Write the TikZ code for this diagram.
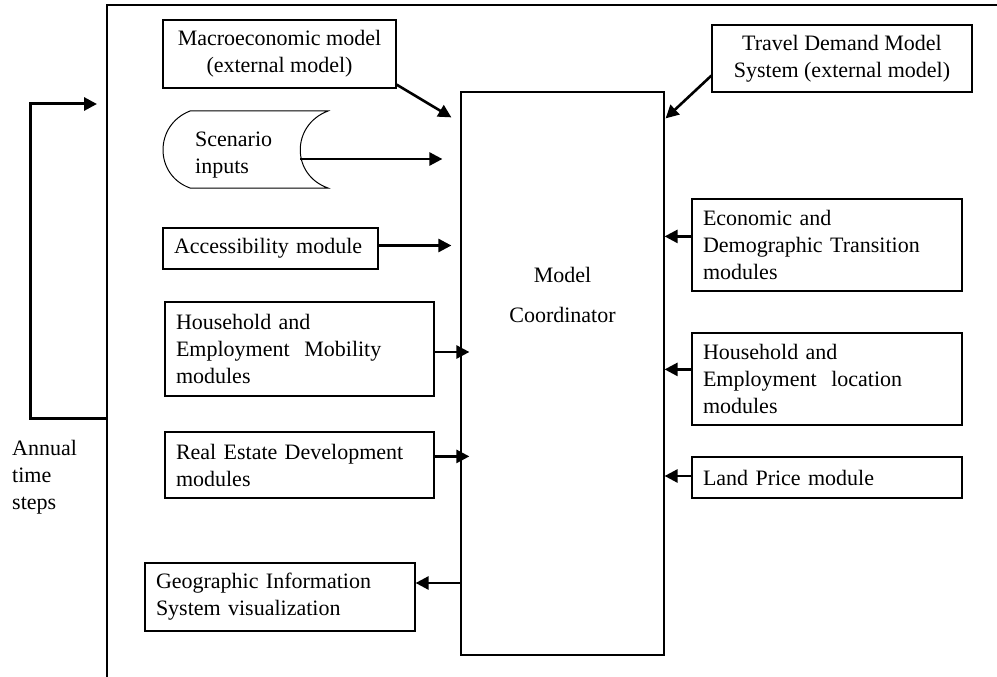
\documentclass[tikz,border=0pt]{standalone}
\usepackage{fontspec}
\setmainfont{Liberation Serif}
\usetikzlibrary{arrows.meta,calc}
\begin{document}
\begin{tikzpicture}[x=1pt,y=-1pt,
  box/.style={draw, line width=1.2pt, inner xsep=11pt, inner ysep=0pt, font=\fontsize{22}{27}\selectfont},
  lbox/.style={box, align=left},
  cbox/.style={box, align=center},
  plain/.style={inner sep=0pt, font=\fontsize{22}{27}\selectfont},
  arr/.style={line width=2.6pt, -{Triangle[length=13pt,width=13pt]}},
  frameline/.style={line width=1.5pt},
  loopline/.style={line width=3pt, line join=miter, -{Triangle[length=13pt,width=13pt]}}]
\useasboundingbox (0,0) rectangle (997,677);

% frame
\coordinate (ftl) at (107,5);
\coordinate (ftr) at (997,5);
\coordinate (fbl) at (107,677);
\coordinate (floop) at (107,418);
\coordinate (lbot) at (30,418);
\coordinate (ltop) at (30,104);
\coordinate (lend) at (97,104);
\draw[frameline] (ftr) -- (ftl) -- (fbl);
\draw[loopline] (floop) -- (lbot) -- (ltop) -- (lend);
\node[plain, align=left, anchor=north west] (annual) at (12,440) {Annual\\time\\steps};

% central coordinator
\node[box, minimum width=203pt, minimum height=563pt] (coord) at (562.5,373.5) {};
\node[plain, align=center] (coordtext) at (562.5,295) {Model\\[13pt]Coordinator};

% left side
\node[cbox, minimum width=233pt, minimum height=68pt] (macro) at (279.5,54) {Macroeconomic model\\(external model)};

\draw[line width=1pt] (190,111) -- (328,111) .. controls (291,125) and (291,175) .. (328,188)
  -- (190,188) .. controls (154,175) and (154,125) .. (190,111) -- cycle;
\node[plain, align=left, anchor=west] (scen) at (195,155) {Scenario\\inputs};
\coordinate (scenout) at (300,159);

\node[lbox, text width=193pt, minimum height=41pt] (access) at (270.5,248.5) {Accessibility module};
\node[lbox, text width=247pt, minimum height=94pt] (hhmob) at (299.5,349) {Household and\\Employment\ \ Mobility\\modules};
\node[lbox, text width=247pt, minimum height=66pt] (realest) at (299.5,465) {Real Estate Development\\modules};
\node[lbox, text width=248pt, minimum height=68pt] (gis) at (280,597) {Geographic Information\\System visualization};

% right side
\node[cbox, minimum width=260pt, minimum height=67pt] (travel) at (842,58.5) {Travel Demand Model\\System (external model)};
\node[lbox, text width=248pt, minimum height=92pt] (econ) at (827,245) {Economic and\\Demographic Transition\\modules};
\node[lbox, text width=248pt, minimum height=92pt] (hhloc) at (827,379) {Household and\\Employment\ \ location\\modules};
\node[lbox, text width=248pt, minimum height=41pt] (land) at (827,477.5) {Land Price module};

% arrows
\draw[arr] ($(macro.south east)+(0,-4)$) -- ($(coord.north west)+(-9,26)$);
\draw[arr] ($(travel.south west)+(0,-17)$) -- ($(coord.north east)+(1,27)$);
\draw[arr] (scenout) -- (scenout -| {$(coord.west)+(-18,0)$});
\draw[arr] ($(access.east)+(0,-3)$) -- ($(coord.west |- access.east)+(-9,-3)$);
\draw[arr] ($(hhmob.east)+(0,3)$) -- ($(coord.west |- hhmob.east)+(9,3)$);
\draw[arr] ($(realest.north east)+(0,25)$) -- ($(coord.west |- realest.north east)+(9,25)$);
\draw[arr] (coord.west |- 0,583) -- (gis.east |- 0,583);
\draw[arr] ($(econ.north west)+(0,38)$) -- ($(coord.east |- econ.north west)+(0,38)$);
\draw[arr] ($(hhloc.north west)+(0,37)$) -- ($(coord.east |- hhloc.north west)+(0,37)$);
\draw[arr] ($(land.west)+(0,-1.5)$) -- ($(coord.east |- land.west)+(0,-1.5)$);
\end{tikzpicture}
\end{document}
